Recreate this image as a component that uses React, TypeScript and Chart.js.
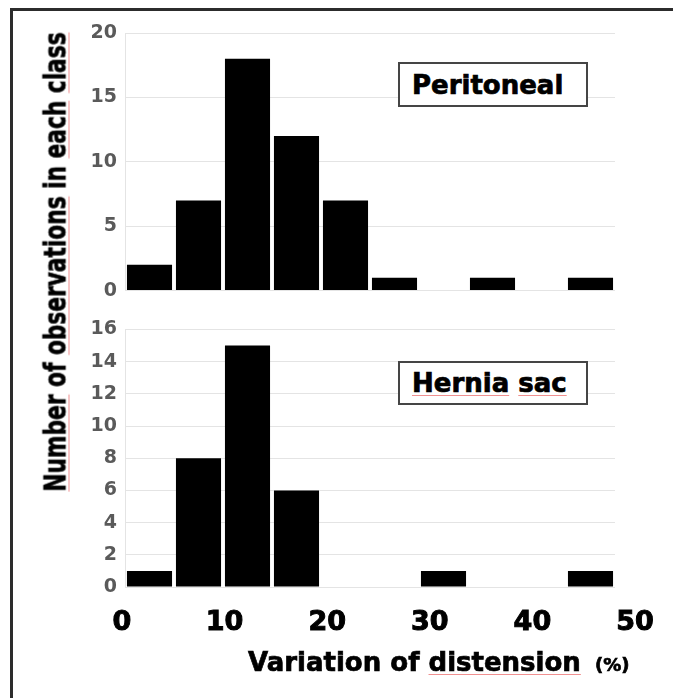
import React, { useEffect, useRef } from "react";
import { Chart, registerables } from "chart.js";

Chart.register(...registerables);

// ---- Data ----
const binLabels = ["0-5", "5-10", "10-15", "15-20", "20-25", "25-30", "30-35", "35-40", "40-45", "45-50"];
const peritonealCounts = [2, 7, 18, 12, 7, 1, 0, 1, 0, 1];
const herniaSacCounts = [1, 8, 15, 6, 0, 0, 1, 0, 0, 1];
const xTickValues = [0, 10, 20, 30, 40, 50];
const peritonealAxis = { max: 20, step: 5 };
const herniaAxis = { max: 16, step: 2 };
const peritonealName = "Peritoneal";
const herniaName = "Hernia sac";

// ---- Layout ----
const W = 673;
const PLOT_LEFT = 125;
const PLOT_RIGHT = 615;
const Y_AXIS_W = 40;
const TOP_H = 310;
const BOT_H = 388;
// the printed x tick labels sit slightly off the bins in the original figure
const LABEL_ZERO_PX = 122;
const LABEL_FIFTY_PX = 635;

const FONT = '"DejaVu Sans", Verdana, sans-serif';

const tickFontY = { family: FONT, weight: "bold" as const, size: 19 };
const gridColor = "#e4e4e4";

function yScale(max: number, step: number) {
  return {
    min: 0,
    max,
    ticks: { stepSize: step, font: tickFontY, color: "#5a5a5a", padding: 8 },
    grid: { color: gridColor, drawTicks: false, lineWidth: 1 },
    border: { display: true, color: gridColor },
    afterFit: (s: any) => {
      s.width = Y_AXIS_W;
    },
  };
}

function barDataset(label: string, data: number[]) {
  return {
    label,
    data,
    backgroundColor: "#000000",
    borderWidth: 0,
    barPercentage: 0.92,
    categoryPercentage: 1.0,
  };
}

export default function App() {
  const topRef = useRef<HTMLCanvasElement | null>(null);
  const botRef = useRef<HTMLCanvasElement | null>(null);

  useEffect(() => {
    const pad = { left: PLOT_LEFT - Y_AXIS_W, right: W - PLOT_RIGHT };
    const top = new Chart(topRef.current as HTMLCanvasElement, {
      type: "bar",
      data: { labels: binLabels, datasets: [barDataset(peritonealName, peritonealCounts) as any] },
      options: {
        responsive: false,
        animation: false,
        layout: { padding: { left: pad.left, right: pad.right, top: 33, bottom: 14 } },
        plugins: { legend: { display: false }, tooltip: { enabled: false }, title: { display: false } },
        scales: {
          x: { display: false },
          y: yScale(peritonealAxis.max, peritonealAxis.step) as any,
        },
      },
    });

    const pxPerUnit = (LABEL_FIFTY_PX - LABEL_ZERO_PX) / 50;
    const lmin = (PLOT_LEFT - LABEL_ZERO_PX) / pxPerUnit;
    const lmax = lmin + (PLOT_RIGHT - PLOT_LEFT) / pxPerUnit;

    const bot = new Chart(botRef.current as HTMLCanvasElement, {
      type: "bar",
      data: { labels: binLabels, datasets: [barDataset(herniaName, herniaSacCounts) as any] },
      options: {
        responsive: false,
        animation: false,
        layout: { padding: { left: pad.left, right: pad.right, top: 14, bottom: 45 } },
        plugins: { legend: { display: false }, tooltip: { enabled: false }, title: { display: false } },
        scales: {
          x: { display: false },
          xl: {
            type: "linear",
            position: "bottom",
            offset: false,
            min: lmin,
            max: lmax,
            grid: { display: false, drawTicks: false, offset: false },
            border: { display: false },
            ticks: {
              autoSkip: false,
              maxRotation: 0,
              padding: 20,
              color: "#000000",
              textStrokeColor: "#000000",
              textStrokeWidth: 1,
              font: { family: FONT, weight: "bold", size: 27 },
              callback: (v: any) => String(v),
            },
            afterBuildTicks: (s: any) => {
              s.ticks = xTickValues.map((v) => ({ value: v }));
            },
            afterFit: (s: any) => {
              s.height = 66;
            },
          } as any,
          y: yScale(herniaAxis.max, herniaAxis.step) as any,
        },
      },
    });

    return () => {
      top.destroy();
      bot.destroy();
    };
  }, []);

  const spell: React.CSSProperties = {
    textDecorationLine: "underline",
    textDecorationColor: "rgba(230,70,70,0.6)",
    textDecorationThickness: "1px",
    textUnderlineOffset: "3px",
  };

  const heavy: React.CSSProperties = {
    WebkitTextStroke: "0.7px #000",
  } as any;

  const boxStyle = (topPx: number, h: number): React.CSSProperties => ({
    position: "absolute",
    left: 398,
    top: topPx,
    width: 190,
    height: h,
    boxSizing: "border-box",
    border: "2px solid #454545",
    background: "#ffffff",
    fontFamily: FONT,
    fontWeight: "bold",
    fontSize: 26,
    color: "#000",
    display: "flex",
    alignItems: "center",
    paddingLeft: 12,
    whiteSpace: "nowrap",
    ...heavy,
  });

  return (
    <div style={{ position: "absolute", left: 0, top: 0, width: W, height: 698, overflow: "hidden", background: "#fff" }}>
      <div
        style={{
          position: "absolute",
          left: 10,
          top: 8,
          width: 720,
          height: 760,
          borderTop: "3px solid #2c2c2c",
          borderLeft: "3px solid #2c2c2c",
        }}
      />
      <canvas ref={topRef} width={W} height={TOP_H} style={{ position: "absolute", left: 0, top: 0, display: "block" }} />
      <canvas ref={botRef} width={W} height={BOT_H} style={{ position: "absolute", left: 0, top: TOP_H, display: "block" }} />

      <div style={boxStyle(62, 45)}>{peritonealName}</div>
      <div style={boxStyle(361, 44)}>
        <span style={spell}>Hernia</span>&nbsp;<span style={spell}>sac</span>
      </div>

      <div
        style={{
          position: "absolute",
          left: 55,
          top: 262,
          transform: "translate(-50%, -50%) rotate(-90deg) scaleX(0.7)",
          fontFamily: FONT,
          fontWeight: "bold",
          fontSize: 31,
          lineHeight: "31px",
          whiteSpace: "nowrap",
          color: "#000",
          ...heavy,
        }}
      >
        <span style={spell}>Number</span> of <span style={spell}>observations</span> in{" "}
        <span style={spell}>each</span> <span style={spell}>class</span>
      </div>

      <div
        style={{
          position: "absolute",
          left: 248,
          top: 649,
          fontFamily: FONT,
          fontWeight: "bold",
          fontSize: 26,
          lineHeight: "26px",
          whiteSpace: "nowrap",
          color: "#000",
          ...heavy,
        }}
      >
        Variation of <span style={spell}>distension</span>{" "}
        <span style={{ fontSize: 18, marginLeft: 5 }}>(%)</span>
      </div>
    </div>
  );
}
